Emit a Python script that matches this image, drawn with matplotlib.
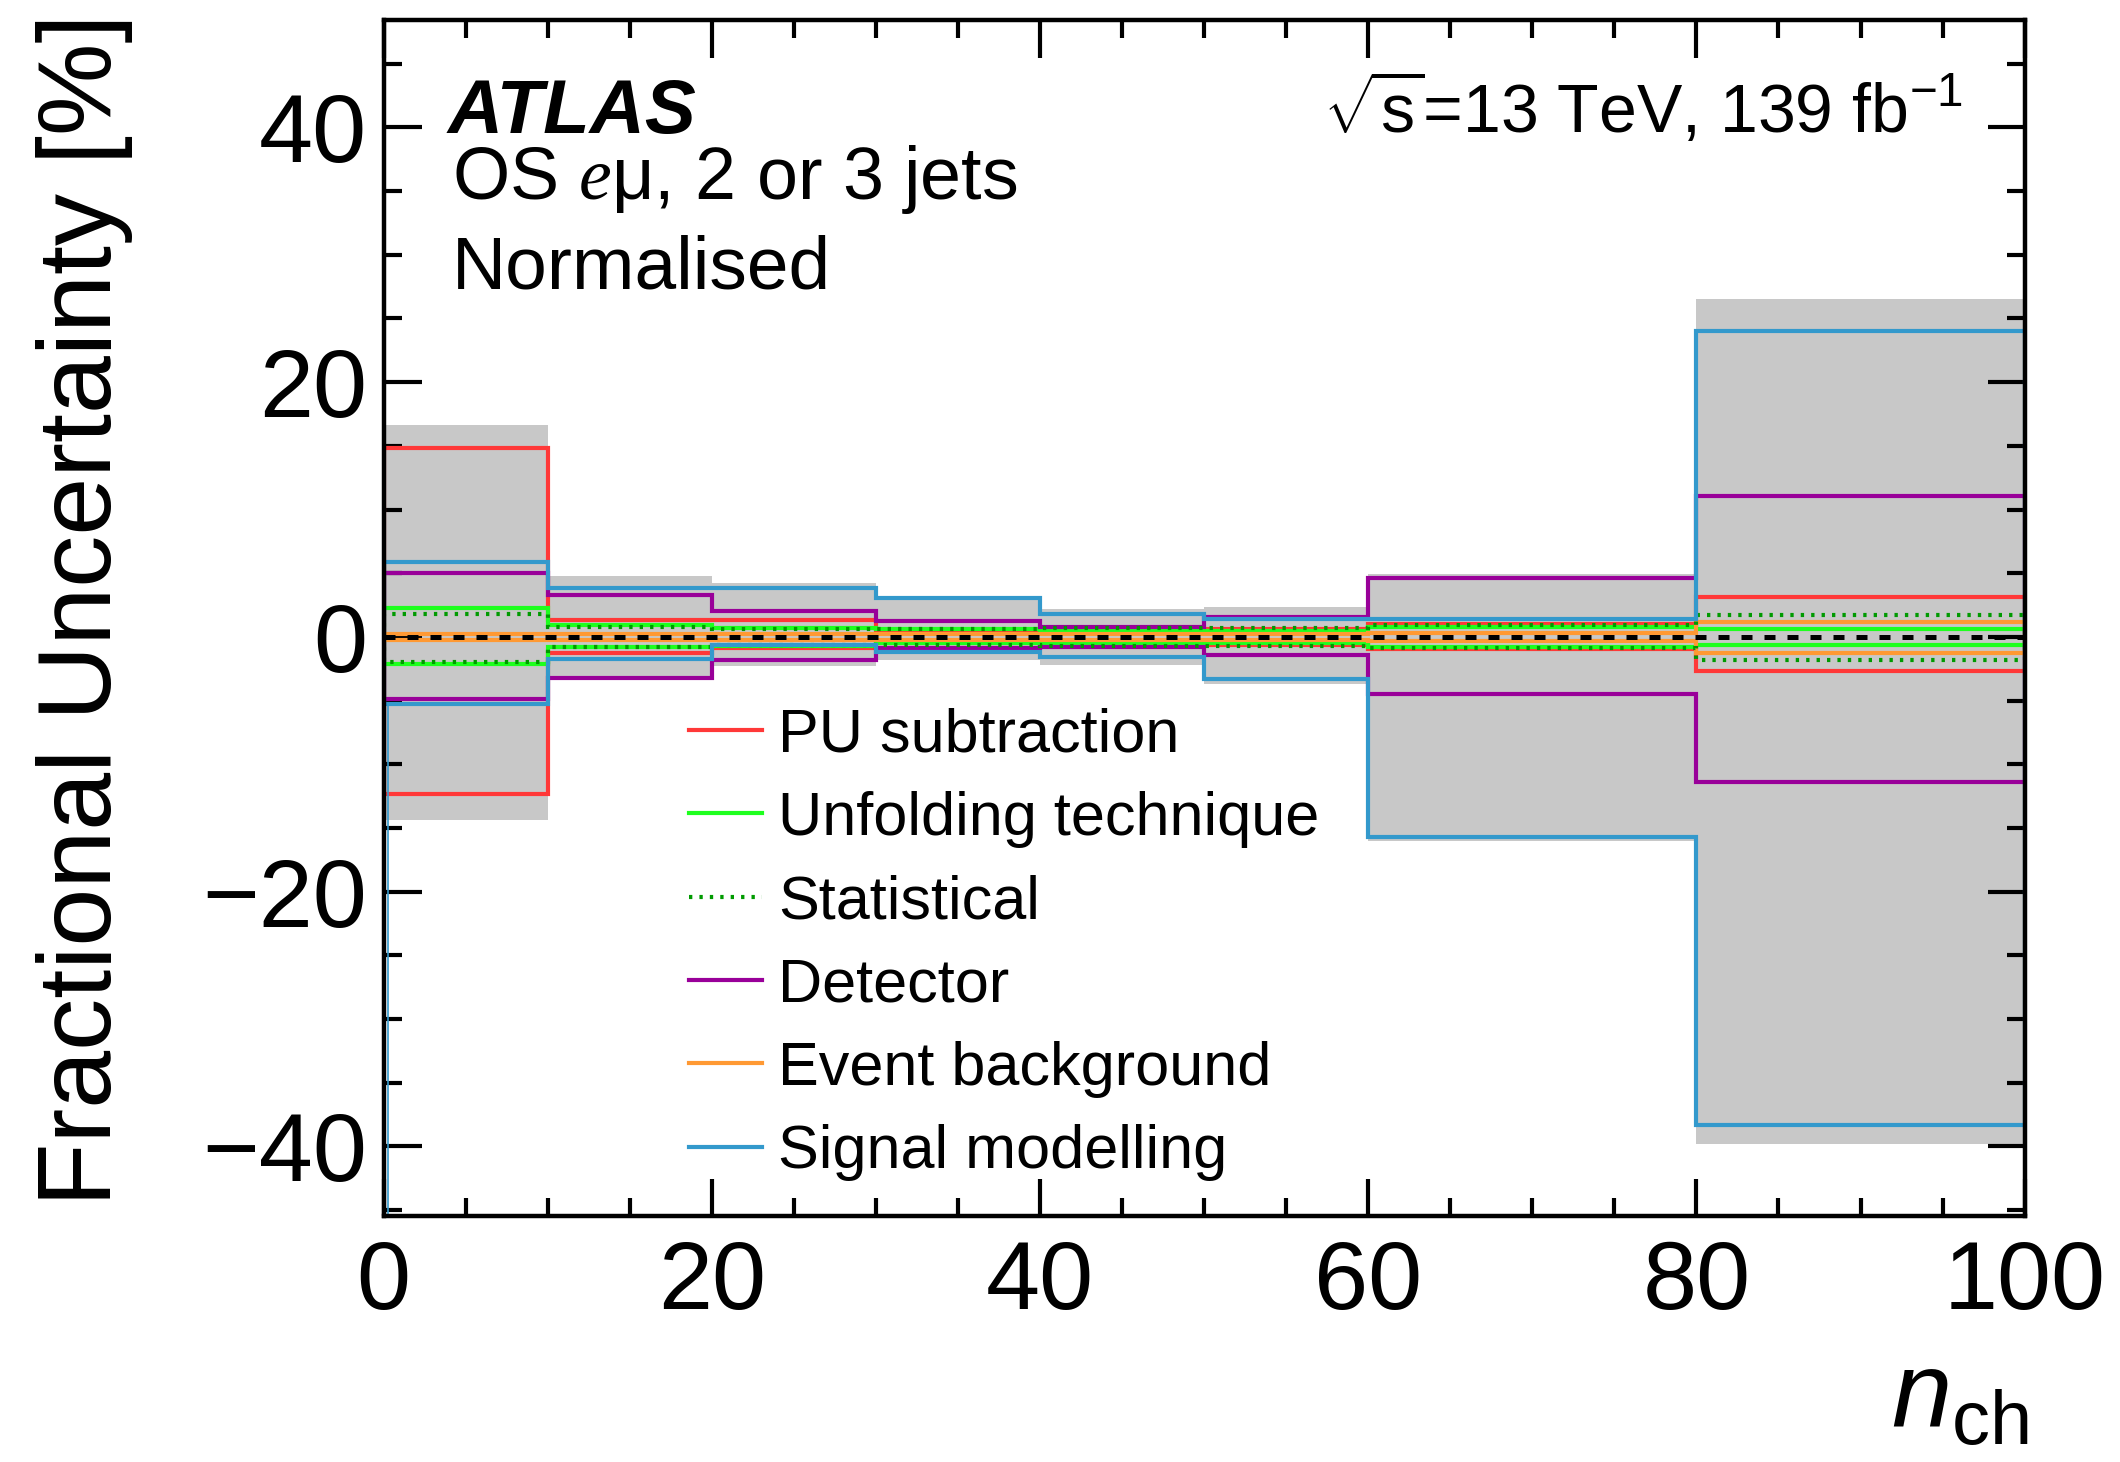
import numpy as np
import matplotlib
matplotlib.use("Agg")
import matplotlib.pyplot as plt
from matplotlib.lines import Line2D
from matplotlib.ticker import MultipleLocator

plt.rcParams["font.family"] = ["Liberation Sans", "DejaVu Sans"]
plt.rcParams["mathtext.fontset"] = "custom"
plt.rcParams["mathtext.rm"] = "Liberation Sans"
plt.rcParams["mathtext.it"] = "Liberation Sans:italic"
plt.rcParams["mathtext.bf"] = "Liberation Sans:bold"
plt.rcParams["mathtext.cal"] = "Liberation Serif:italic"

# n_ch binning
edges = [0, 10, 20, 30, 40, 50, 60, 80, 100]

# fractional uncertainties [%], up / down per bin
pu_up = [14.8, 1.3, 1.35, 0.5, 0.6, 0.6, 1.0, 3.1]
pu_dn = [-12.3, -1.3, -0.9, -0.5, -0.6, -0.6, -0.95, -2.7]
unf_up = [2.3, 0.9, 0.7, 0.6, 0.5, 0.5, 0.8, 0.6]
unf_dn = [-2.1, -0.8, -0.7, -0.5, -0.5, -0.5, -0.8, -0.6]
stat_up = [1.8, 0.8, 0.6, 0.6, 0.7, 0.7, 0.9, 1.7]
stat_dn = [-2.0, -0.8, -0.6, -0.6, -0.7, -0.7, -0.9, -1.8]
det_up = [5.0, 3.3, 2.05, 1.25, 0.75, 1.55, 4.6, 11.1]
det_dn = [-4.9, -3.2, -1.8, -0.9, -0.8, -1.4, -4.5, -11.4]
bkg_up = [0.25, 0.25, 0.25, 0.25, 0.25, 0.25, 0.3, 1.2]
bkg_dn = [-0.25, -0.25, -0.25, -0.25, -0.25, -0.25, -0.3, -1.3]
sig_up = [5.9, 3.8, 3.85, 3.05, 1.8, 1.4, 1.4, 24.0]
sig_dn = [-5.3, -1.7, -0.6, -1.2, -1.6, -3.3, -15.7, -38.3]
tot_up = [16.6, 4.8, 4.25, 3.2, 2.2, 2.35, 4.9, 26.5]
tot_dn = [-14.4, -3.4, -2.3, -1.8, -2.2, -3.7, -16.0, -39.8]

labels = ["PU subtraction", "Unfolding technique", "Statistical",
          "Detector", "Event background", "Signal modelling"]

RED = "#ff3838"
GREEN = "#1eff1e"
DKGREEN = "#009a00"
PURPLE = "#990099"
ORANGE = "#ff9933"
BLUE = "#3399cc"

lw = 3.0
dot = (0.8, 1.7)

fig = plt.figure(figsize=(21.2, 14.62), dpi=100)
ax = fig.add_axes([0.181, 0.168, 0.774, 0.818])

ymin, ymax = -45.5, 48.4

ax.stairs(tot_up, edges, baseline=tot_dn, fill=True, color="#c8c8c8", lw=0, zorder=1)

ax.stairs(pu_up, edges, color=RED, lw=lw, zorder=2)
ax.stairs(pu_dn, edges, color=RED, lw=lw, zorder=2)
ax.stairs(unf_up, edges, color=GREEN, lw=lw, zorder=3)
ax.stairs(unf_dn, edges, color=GREEN, lw=lw, zorder=3)
ax.stairs(det_up, edges, color=PURPLE, lw=lw, zorder=4)
ax.stairs(det_dn, edges, color=PURPLE, lw=lw, zorder=4)
ax.stairs(bkg_up, edges, color=ORANGE, lw=lw, zorder=5)
ax.stairs(bkg_dn, edges, color=ORANGE, lw=lw, zorder=5)
ax.stairs(stat_up, edges, color=DKGREEN, lw=lw, ls=(0, dot), zorder=6)
ax.stairs(stat_dn, edges, color=DKGREEN, lw=lw, ls=(0, dot), zorder=6)
ax.stairs(sig_up, edges, color=BLUE, lw=lw, zorder=7)
ax.stairs(sig_dn, edges, color=BLUE, lw=lw, zorder=7)
# first-bin edge of the down variation runs to the frame bottom
ax.vlines(0.25, ymin, sig_dn[0], color=BLUE, lw=1.2, zorder=7)

ax.axhline(0, color="black", lw=3.6, ls=(0, (2.2, 2.4)), zorder=8)

ax.set_xlim(0, 100)
ax.set_ylim(ymin, ymax)
ax.xaxis.set_major_locator(MultipleLocator(20))
ax.xaxis.set_minor_locator(MultipleLocator(5))
ax.yaxis.set_minor_locator(MultipleLocator(5))
ax.tick_params(which="both", direction="in", top=True, right=True, width=3.0)
ax.tick_params(which="major", length=27, labelsize=70)
ax.tick_params(axis="x", which="major", pad=16)
ax.tick_params(axis="y", which="major", pad=12)
ax.tick_params(which="minor", length=13)
for s in ax.spines.values():
    s.set_linewidth(3.2)
    s.set_zorder(10)
ax.set_yticks([-40, -20, 0, 20, 40])
ax.set_yticklabels(["\u221240", "\u221220", "0", "20", "40"])

fig.text(0.04, 0.991, "Fractional Uncertainty [%]", rotation=90,
         ha="center", va="top", fontsize=75)
fig.text(0.957, 0.008, r"$n_{\mathrm{ch}}$", ha="right", va="bottom", fontsize=78)

fig.text(0.211, 0.909, "ATLAS", fontsize=55, fontweight="bold", fontstyle="italic")
fig.text(0.213, 0.864, r"OS $\mathcal{e}$μ, 2 or 3 jets", fontsize=53)
fig.text(0.213, 0.803, "Normalised", fontsize=54)
fig.text(0.926, 0.909, r"$\sqrt{\mathrm{s}}$=13 TeV, 139 fb$^{\mathregular{-1}}$",
         ha="right", fontsize=49)

handles = [
    Line2D([], [], color=RED, lw=lw),
    Line2D([], [], color=GREEN, lw=lw),
    Line2D([], [], color=DKGREEN, lw=lw, ls=(0, dot)),
    Line2D([], [], color=PURPLE, lw=lw),
    Line2D([], [], color=ORANGE, lw=lw),
    Line2D([], [], color=BLUE, lw=lw),
]
fig.legend(handles, labels, loc="upper left", bbox_to_anchor=(0.325, 0.516),
           frameon=False, fontsize=44, handlelength=1.2, handletextpad=0.26,
           labelspacing=0.43, borderpad=0, borderaxespad=0)

fig.savefig("out.png", dpi=100)
